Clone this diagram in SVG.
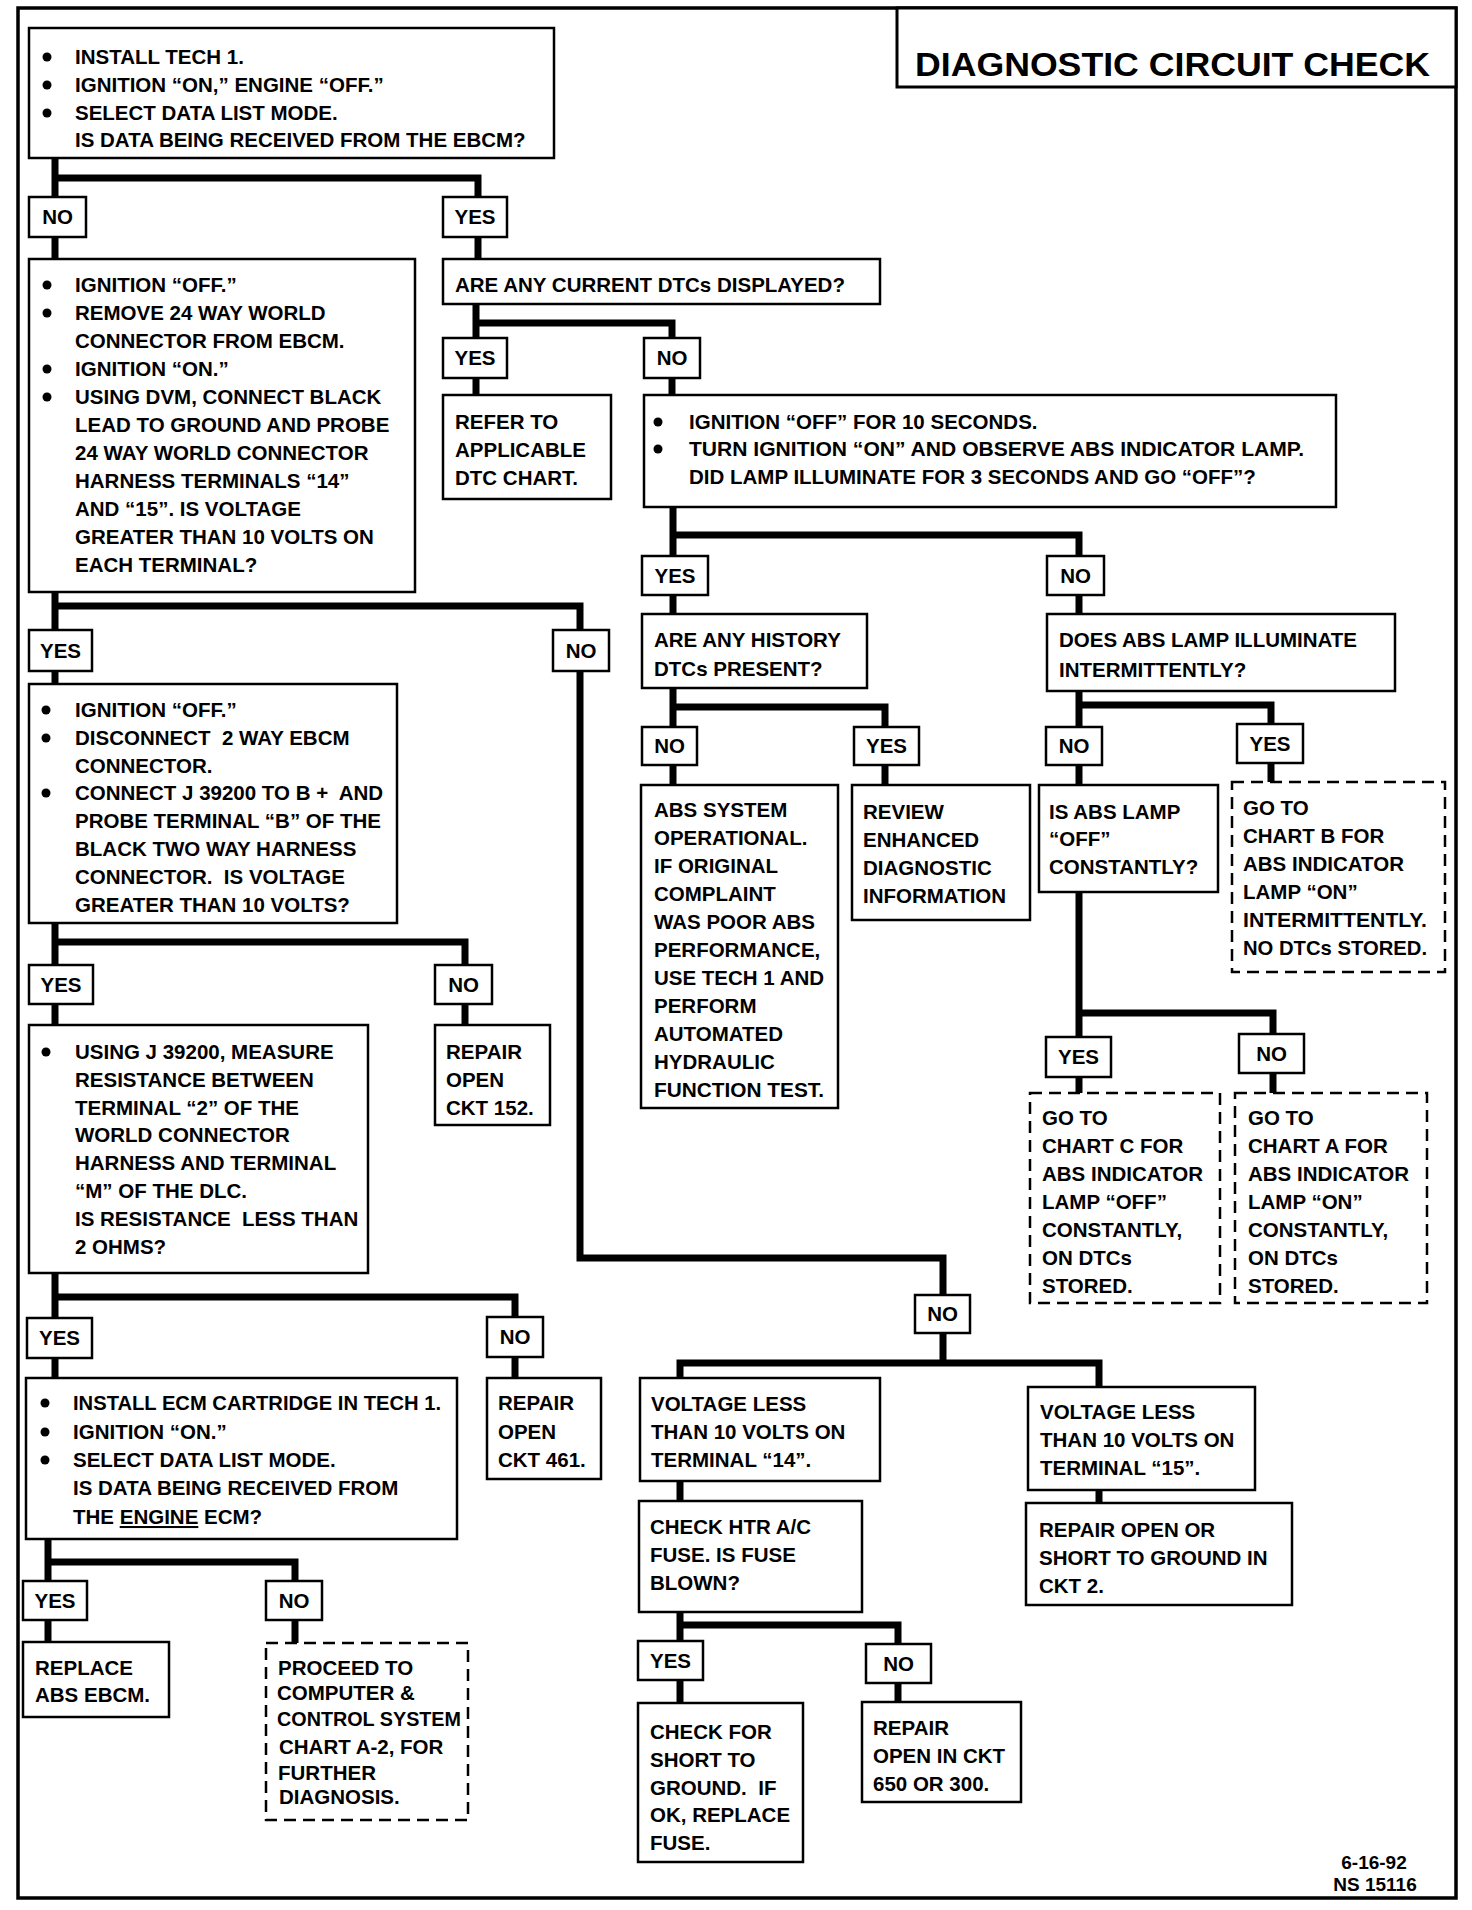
<svg xmlns="http://www.w3.org/2000/svg" width="1472" height="1910" viewBox="0 0 1472 1910">
<style>
.box{fill:#fff;stroke:#000;stroke-width:2.5}
.dash{stroke-dasharray:12 7}
.t{font-family:"Liberation Sans",Arial,sans-serif;font-weight:bold;font-size:20.5px;fill:#000}
.lbl{text-anchor:middle}
.c{fill:none;stroke:#000;stroke-width:7;stroke-linejoin:miter;stroke-linecap:butt}
.bul{fill:#000}
</style>
<rect x="0" y="0" width="1472" height="1910" fill="#fff"/>
<rect x="18" y="8" width="1438" height="1890" fill="none" stroke="#000" stroke-width="3.5"/>
<g id="title">
<rect x="897" y="8" width="559" height="79" fill="#fff" stroke="#000" stroke-width="3"/>
<text class="t" x="915" y="76" style="font-size:34px" textLength="515" lengthAdjust="spacingAndGlyphs">DIAGNOSTIC CIRCUIT CHECK</text>
</g>
<g id="connectors">
<path class="c" d="M55 158V197M55 178H478V197"/>
<path class="c" d="M55 237V259"/>
<path class="c" d="M478 237V259"/>
<path class="c" d="M476 304V338M476 323H672V338"/>
<path class="c" d="M476 378V395"/>
<path class="c" d="M672 378V395"/>
<path class="c" d="M673 507V556M673 535H1079V556"/>
<path class="c" d="M673 595V614"/>
<path class="c" d="M1079 595V614"/>
<path class="c" d="M673 688V727M673 707H885V727"/>
<path class="c" d="M673 765V785"/>
<path class="c" d="M885 765V785"/>
<path class="c" d="M1079 691V727M1079 705H1271V724"/>
<path class="c" d="M1079 765V785"/>
<path class="c" d="M1271 763V782"/>
<path class="c" d="M1079 892V1037M1079 1013H1273V1034"/>
<path class="c" d="M1079 1077V1093"/>
<path class="c" d="M1273 1073V1093"/>
<path class="c" d="M55 592V630M55 606H580V630"/>
<path class="c" d="M55 671V684"/>
<path class="c" d="M580 671V1258H943V1295"/>
<path class="c" d="M943 1333V1363M680 1378V1363H1099V1387"/>
<path class="c" d="M680 1481V1501"/>
<path class="c" d="M1099 1490V1503"/>
<path class="c" d="M680 1612V1641M680 1625H898V1644"/>
<path class="c" d="M680 1680V1703"/>
<path class="c" d="M898 1683V1702"/>
<path class="c" d="M55 923V965M55 942H465V965"/>
<path class="c" d="M55 1004V1025"/>
<path class="c" d="M465 1004V1025"/>
<path class="c" d="M55 1273V1318M55 1297H515V1317"/>
<path class="c" d="M55 1358V1378"/>
<path class="c" d="M515 1357V1378"/>
<path class="c" d="M48 1539V1581M48 1562H295V1581"/>
<path class="c" d="M48 1620V1642"/>
<path class="c" d="M295 1620V1643"/>
</g>
<g id="labels">
<g id="l_no1"><rect class="box" x="29" y="197" width="57" height="40"/><text class="t lbl" x="57.5" y="224">NO</text></g>
<g id="l_yes1"><rect class="box" x="443" y="197" width="64" height="40"/><text class="t lbl" x="475" y="224">YES</text></g>
<g id="l_yes2"><rect class="box" x="443" y="338" width="64" height="40"/><text class="t lbl" x="475" y="365">YES</text></g>
<g id="l_no2"><rect class="box" x="644" y="338" width="56" height="40"/><text class="t lbl" x="672" y="365">NO</text></g>
<g id="l_yes3"><rect class="box" x="642" y="556" width="66" height="39"/><text class="t lbl" x="675" y="583">YES</text></g>
<g id="l_no3"><rect class="box" x="1047" y="556" width="57" height="39"/><text class="t lbl" x="1075.5" y="583">NO</text></g>
<g id="l_no4"><rect class="box" x="642" y="727" width="55" height="38"/><text class="t lbl" x="669.5" y="753">NO</text></g>
<g id="l_yes4"><rect class="box" x="854" y="727" width="65" height="38"/><text class="t lbl" x="886.5" y="753">YES</text></g>
<g id="l_no5"><rect class="box" x="1046" y="727" width="56" height="38"/><text class="t lbl" x="1074" y="753">NO</text></g>
<g id="l_yes5"><rect class="box" x="1237" y="724" width="66" height="39"/><text class="t lbl" x="1270" y="751">YES</text></g>
<g id="l_yes6"><rect class="box" x="1046" y="1037" width="65" height="40"/><text class="t lbl" x="1078.5" y="1064">YES</text></g>
<g id="l_no6"><rect class="box" x="1239" y="1034" width="65" height="39"/><text class="t lbl" x="1271.5" y="1061">NO</text></g>
<g id="l_yes7"><rect class="box" x="29" y="630" width="63" height="41"/><text class="t lbl" x="60.5" y="658">YES</text></g>
<g id="l_no7"><rect class="box" x="553" y="630" width="56" height="41"/><text class="t lbl" x="581" y="658">NO</text></g>
<g id="l_no8"><rect class="box" x="915" y="1295" width="55" height="38"/><text class="t lbl" x="942.5" y="1321">NO</text></g>
<g id="l_yes8"><rect class="box" x="29" y="965" width="64" height="39"/><text class="t lbl" x="61" y="992">YES</text></g>
<g id="l_no8b"><rect class="box" x="435" y="965" width="57" height="39"/><text class="t lbl" x="463.5" y="992">NO</text></g>
<g id="l_yes9b"><rect class="box" x="27" y="1318" width="65" height="40"/><text class="t lbl" x="59.5" y="1345">YES</text></g>
<g id="l_no9b"><rect class="box" x="487" y="1317" width="56" height="40"/><text class="t lbl" x="515" y="1344">NO</text></g>
<g id="l_yes10"><rect class="box" x="23" y="1581" width="64" height="39"/><text class="t lbl" x="55" y="1608">YES</text></g>
<g id="l_no10"><rect class="box" x="266" y="1581" width="56" height="39"/><text class="t lbl" x="294" y="1608">NO</text></g>
<g id="l_yes11"><rect class="box" x="638" y="1641" width="65" height="39"/><text class="t lbl" x="670.5" y="1668">YES</text></g>
<g id="l_no11"><rect class="box" x="866" y="1644" width="65" height="39"/><text class="t lbl" x="898.5" y="1671">NO</text></g>
</g>
<g id="nodeA">
<rect class="box" x="29" y="28" width="525" height="130"/>
<circle class="bul" cx="47" cy="57" r="4.5"/><circle class="bul" cx="47" cy="85" r="4.5"/><circle class="bul" cx="47" cy="113" r="4.5"/>
<text class="t"><tspan x="75" y="64">INSTALL TECH 1.</tspan><tspan x="75" y="92">IGNITION “ON,” ENGINE “OFF.”</tspan><tspan x="75" y="120">SELECT DATA LIST MODE.</tspan><tspan x="75" y="147">IS DATA BEING RECEIVED FROM THE EBCM?</tspan></text>
</g>
<g id="nodeB">
<rect class="box" x="29" y="259" width="386" height="333"/>
<circle class="bul" cx="47" cy="285" r="4.5"/><circle class="bul" cx="47" cy="313" r="4.5"/><circle class="bul" cx="47" cy="369" r="4.5"/><circle class="bul" cx="47" cy="397" r="4.5"/>
<text class="t"><tspan x="75" y="292">IGNITION “OFF.”</tspan><tspan x="75" y="320">REMOVE 24 WAY WORLD</tspan><tspan x="75" y="348">CONNECTOR FROM EBCM.</tspan><tspan x="75" y="376">IGNITION “ON.”</tspan><tspan x="75" y="404">USING DVM, CONNECT BLACK</tspan><tspan x="75" y="432">LEAD TO GROUND AND PROBE</tspan><tspan x="75" y="460">24 WAY WORLD CONNECTOR</tspan><tspan x="75" y="488">HARNESS TERMINALS “14”</tspan><tspan x="75" y="516">AND “15”. IS VOLTAGE</tspan><tspan x="75" y="544">GREATER THAN 10 VOLTS ON</tspan><tspan x="75" y="572">EACH TERMINAL?</tspan></text>
</g>
<g id="nodeC">
<rect class="box" x="443" y="259" width="437" height="45"/>
<text class="t" x="455" y="292">ARE ANY CURRENT DTCs DISPLAYED?</text>
</g>
<g id="nodeD">
<rect class="box" x="443" y="395" width="168" height="104"/>
<text class="t"><tspan x="455" y="429">REFER TO</tspan><tspan x="455" y="457">APPLICABLE</tspan><tspan x="455" y="485">DTC CHART.</tspan></text>
</g>
<g id="nodeE">
<rect class="box" x="644" y="395" width="692" height="112"/>
<circle class="bul" cx="658" cy="422" r="4.5"/><circle class="bul" cx="658" cy="449" r="4.5"/>
<text class="t"><tspan x="689" y="429">IGNITION “OFF” FOR 10 SECONDS.</tspan><tspan x="689" y="456" textLength="615" lengthAdjust="spacingAndGlyphs">TURN IGNITION “ON” AND OBSERVE ABS INDICATOR LAMP.</tspan><tspan x="689" y="484">DID LAMP ILLUMINATE FOR 3 SECONDS AND GO “OFF”?</tspan></text>
</g>
<g id="nodeF">
<rect class="box" x="642" y="614" width="225" height="74"/>
<text class="t"><tspan x="654" y="647">ARE ANY HISTORY</tspan><tspan x="654" y="676">DTCs PRESENT?</tspan></text>
</g>
<g id="nodeG">
<rect class="box" x="1047" y="614" width="348" height="77"/>
<text class="t"><tspan x="1059" y="647">DOES ABS LAMP ILLUMINATE</tspan><tspan x="1059" y="677">INTERMITTENTLY?</tspan></text>
</g>
<g id="nodeH">
<rect class="box" x="641" y="785" width="197" height="323"/>
<text class="t"><tspan x="654" y="817">ABS SYSTEM</tspan><tspan x="654" y="845">OPERATIONAL.</tspan><tspan x="654" y="873">IF ORIGINAL</tspan><tspan x="654" y="901">COMPLAINT</tspan><tspan x="654" y="929">WAS POOR ABS</tspan><tspan x="654" y="957">PERFORMANCE,</tspan><tspan x="654" y="985">USE TECH 1 AND</tspan><tspan x="654" y="1013">PERFORM</tspan><tspan x="654" y="1041">AUTOMATED</tspan><tspan x="654" y="1069">HYDRAULIC</tspan><tspan x="654" y="1097" textLength="170" lengthAdjust="spacingAndGlyphs">FUNCTION TEST.</tspan></text>
</g>
<g id="nodeI">
<rect class="box" x="852" y="785" width="178" height="135"/>
<text class="t"><tspan x="863" y="819">REVIEW</tspan><tspan x="863" y="847">ENHANCED</tspan><tspan x="863" y="875">DIAGNOSTIC</tspan><tspan x="863" y="903">INFORMATION</tspan></text>
</g>
<g id="nodeJ">
<rect class="box" x="1039" y="785" width="179" height="107"/>
<text class="t"><tspan x="1049" y="819">IS ABS LAMP</tspan><tspan x="1049" y="846">“OFF”</tspan><tspan x="1049" y="874">CONSTANTLY?</tspan></text>
</g>
<g id="nodeK">
<rect class="box dash" x="1232" y="782" width="213" height="190"/>
<text class="t"><tspan x="1243" y="815">GO TO</tspan><tspan x="1243" y="843">CHART B FOR</tspan><tspan x="1243" y="871">ABS INDICATOR</tspan><tspan x="1243" y="899">LAMP “ON”</tspan><tspan x="1243" y="927" textLength="184" lengthAdjust="spacingAndGlyphs">INTERMITTENTLY.</tspan><tspan x="1243" y="955" textLength="184" lengthAdjust="spacingAndGlyphs">NO DTCs STORED.</tspan></text>
</g>
<g id="nodeL">
<rect class="box dash" x="1030" y="1093" width="190" height="210"/>
<text class="t"><tspan x="1042" y="1125">GO TO</tspan><tspan x="1042" y="1153">CHART C FOR</tspan><tspan x="1042" y="1181">ABS INDICATOR</tspan><tspan x="1042" y="1209">LAMP “OFF”</tspan><tspan x="1042" y="1237">CONSTANTLY,</tspan><tspan x="1042" y="1265">ON DTCs</tspan><tspan x="1042" y="1293">STORED.</tspan></text>
</g>
<g id="nodeM">
<rect class="box dash" x="1235" y="1093" width="192" height="210"/>
<text class="t"><tspan x="1248" y="1125">GO TO</tspan><tspan x="1248" y="1153">CHART A FOR</tspan><tspan x="1248" y="1181">ABS INDICATOR</tspan><tspan x="1248" y="1209">LAMP “ON”</tspan><tspan x="1248" y="1237">CONSTANTLY,</tspan><tspan x="1248" y="1265">ON DTCs</tspan><tspan x="1248" y="1293">STORED.</tspan></text>
</g>
<g id="nodeT">
<rect class="box" x="29" y="684" width="368" height="239"/>
<circle class="bul" cx="46" cy="710" r="4.5"/><circle class="bul" cx="46" cy="738" r="4.5"/><circle class="bul" cx="46" cy="793" r="4.5"/>
<text class="t" xml:space="preserve"><tspan x="75" y="717">IGNITION “OFF.”</tspan><tspan x="75" y="745">DISCONNECT  2 WAY EBCM</tspan><tspan x="75" y="773">CONNECTOR.</tspan><tspan x="75" y="800">CONNECT J 39200 TO B +  AND</tspan><tspan x="75" y="828">PROBE TERMINAL “B” OF THE</tspan><tspan x="75" y="856">BLACK TWO WAY HARNESS</tspan><tspan x="75" y="884">CONNECTOR.  IS VOLTAGE</tspan><tspan x="75" y="912">GREATER THAN 10 VOLTS?</tspan></text>
</g>
<g id="nodeU">
<rect class="box" x="29" y="1025" width="339" height="248"/>
<circle class="bul" cx="46" cy="1052" r="4.5"/>
<text class="t" xml:space="preserve"><tspan x="75" y="1059">USING J 39200, MEASURE</tspan><tspan x="75" y="1087">RESISTANCE BETWEEN</tspan><tspan x="75" y="1115">TERMINAL “2” OF THE</tspan><tspan x="75" y="1142">WORLD CONNECTOR</tspan><tspan x="75" y="1170">HARNESS AND TERMINAL</tspan><tspan x="75" y="1198">“M” OF THE DLC.</tspan><tspan x="75" y="1226">IS RESISTANCE  LESS THAN</tspan><tspan x="75" y="1254">2 OHMS?</tspan></text>
</g>
<g id="nodeV">
<rect class="box" x="435" y="1025" width="115" height="100"/>
<text class="t"><tspan x="446" y="1059">REPAIR</tspan><tspan x="446" y="1087">OPEN</tspan><tspan x="446" y="1115">CKT 152.</tspan></text>
</g>
<g id="nodeW">
<rect class="box" x="26" y="1378" width="431" height="161"/>
<circle class="bul" cx="45" cy="1403" r="4.5"/><circle class="bul" cx="45" cy="1432" r="4.5"/><circle class="bul" cx="45" cy="1460" r="4.5"/>
<text class="t"><tspan x="73" y="1410" textLength="368" lengthAdjust="spacingAndGlyphs">INSTALL ECM CARTRIDGE IN TECH 1.</tspan><tspan x="73" y="1439">IGNITION “ON.”</tspan><tspan x="73" y="1467">SELECT DATA LIST MODE.</tspan><tspan x="73" y="1495">IS DATA BEING RECEIVED FROM</tspan><tspan x="73" y="1524">THE <tspan text-decoration="underline">ENGINE</tspan> ECM?</tspan></text>
</g>
<g id="nodeX">
<rect class="box" x="487" y="1378" width="114" height="101"/>
<text class="t"><tspan x="498" y="1410">REPAIR</tspan><tspan x="498" y="1439">OPEN</tspan><tspan x="498" y="1467">CKT 461.</tspan></text>
</g>
<g id="nodeY">
<rect class="box" x="23" y="1642" width="146" height="75"/>
<text class="t"><tspan x="35" y="1675">REPLACE</tspan><tspan x="35" y="1702">ABS EBCM.</tspan></text>
</g>
<g id="nodeZ">
<rect class="box dash" x="266" y="1643" width="202" height="177"/>
<text class="t"><tspan x="278" y="1675">PROCEED TO</tspan><tspan x="277" y="1700">COMPUTER &amp;</tspan><tspan x="277" y="1726" textLength="184" lengthAdjust="spacingAndGlyphs">CONTROL SYSTEM</tspan><tspan x="279" y="1754">CHART A-2, FOR</tspan><tspan x="278" y="1780">FURTHER</tspan><tspan x="279" y="1804">DIAGNOSIS.</tspan></text>
</g>
<g id="nodeN">
<rect class="box" x="640" y="1378" width="240" height="103"/>
<text class="t"><tspan x="651" y="1411">VOLTAGE LESS</tspan><tspan x="651" y="1439">THAN 10 VOLTS ON</tspan><tspan x="651" y="1467">TERMINAL “14”.</tspan></text>
</g>
<g id="nodeO">
<rect class="box" x="1028" y="1387" width="227" height="103"/>
<text class="t"><tspan x="1040" y="1419">VOLTAGE LESS</tspan><tspan x="1040" y="1447">THAN 10 VOLTS ON</tspan><tspan x="1040" y="1475">TERMINAL “15”.</tspan></text>
</g>
<g id="nodeP">
<rect class="box" x="1026" y="1503" width="266" height="102"/>
<text class="t"><tspan x="1039" y="1537">REPAIR OPEN OR</tspan><tspan x="1039" y="1565">SHORT TO GROUND IN</tspan><tspan x="1039" y="1593">CKT 2.</tspan></text>
</g>
<g id="nodeQ">
<rect class="box" x="639" y="1501" width="223" height="111"/>
<text class="t"><tspan x="650" y="1534">CHECK HTR A/C</tspan><tspan x="650" y="1562">FUSE. IS FUSE</tspan><tspan x="650" y="1590">BLOWN?</tspan></text>
</g>
<g id="nodeR">
<rect class="box" x="638" y="1703" width="165" height="159"/>
<text class="t" xml:space="preserve"><tspan x="650" y="1739">CHECK FOR</tspan><tspan x="650" y="1767">SHORT TO</tspan><tspan x="650" y="1795">GROUND.  IF</tspan><tspan x="650" y="1822">OK, REPLACE</tspan><tspan x="650" y="1850">FUSE.</tspan></text>
</g>
<g id="nodeS">
<rect class="box" x="862" y="1702" width="159" height="100"/>
<text class="t"><tspan x="873" y="1735">REPAIR</tspan><tspan x="873" y="1763">OPEN IN CKT</tspan><tspan x="873" y="1791">650 OR 300.</tspan></text>
</g>
<g id="footer">
<text class="t" style="font-size:19px" text-anchor="middle"><tspan x="1374" y="1869">6-16-92</tspan><tspan x="1375" y="1891">NS 15116</tspan></text>
</g>
</svg>
